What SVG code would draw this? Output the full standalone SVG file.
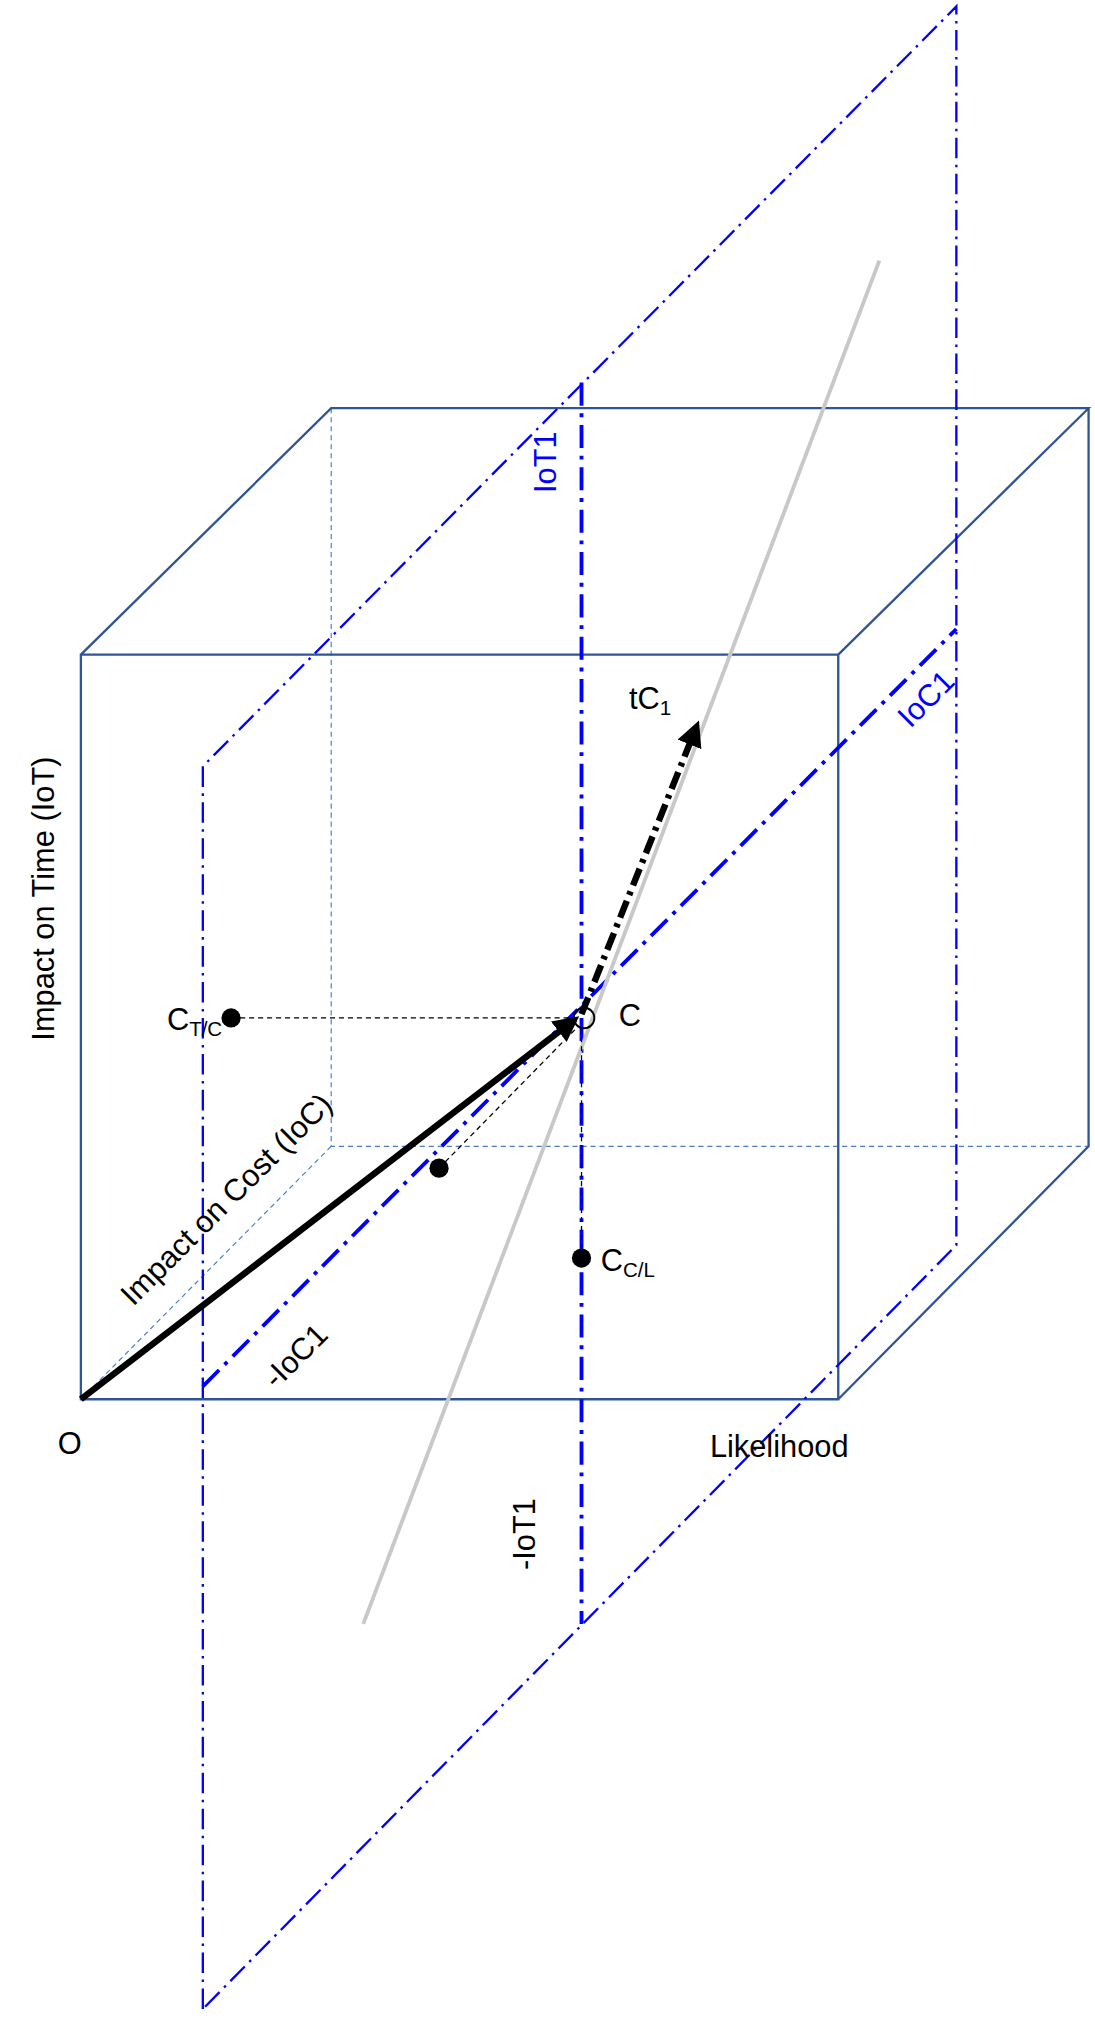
<svg xmlns="http://www.w3.org/2000/svg" width="1095" height="2024" viewBox="0 0 1095 2024">
<style>
.cube{fill:none;stroke:#2f5597;stroke-width:1.8}
.hid{fill:none;stroke:#4a7cc9;stroke-width:0.9;stroke-dasharray:4 3}
.pl{fill:none;stroke:#0000ff;stroke-width:1.8;stroke-dasharray:16 5 2 5}
.plt{fill:none;stroke:#0000ff;stroke-width:3;stroke-dasharray:18 6 3 6}
.prj{fill:none;stroke:#000;stroke-width:1;stroke-dasharray:4 3}
text{font-family:"Liberation Sans",Arial,sans-serif;font-size:24px;fill:#000}
.b{fill:#0000ff}
</style>
<defs>
<marker id="ah" viewBox="0 0 10 10" refX="8" refY="5" markerWidth="4" markerHeight="4" orient="auto"><path d="M0,0L10,5L0,10z" fill="#000"/></marker>
<marker id="ah2" viewBox="0 0 10 10" refX="8" refY="5" markerWidth="4" markerHeight="4" orient="auto"><path d="M0,0L10,5L0,10z" fill="#000"/></marker>
</defs>
<g transform="scale(1.2837)">
<g id="cube">
<path class="hid" d="M258,318V893H848M63,1090L258,893"/>
<path class="cube" d="M63,510H653V1090H63Z M63,510L258,318H848L653,510 M848,318V893L653,1090"/>
</g>
<g id="planes">
<path class="pl" d="M158,1565V597L745,5V970L158,1565"/>
<path class="plt" d="M453,298V1265"/>
<path class="plt" d="M158,1080L745,490"/>
</g>
<g id="connectors">
<line x1="685" y1="203" x2="283" y2="1265" stroke="#c8c8c8" stroke-width="3"/>
<path class="prj" d="M180,793H448M342,910L448,802M453,980V802"/>
<line x1="63" y1="1090" x2="448" y2="794" stroke="#000" stroke-width="5" marker-end="url(#ah)"/>
<line x1="453" y1="790" x2="543" y2="565" stroke="#000" stroke-width="5" stroke-dasharray="14 5 3 5" marker-end="url(#ah2)"/>
</g>
<g id="points">
<circle cx="455" cy="793" r="8" fill="none" stroke="#000" stroke-width="1.5"/>
<circle cx="180" cy="793" r="7.5"/>
<circle cx="342" cy="910" r="7.5"/>
<circle cx="453" cy="980" r="7.5"/>
</g>
<g id="labels">
<text transform="translate(42,700) rotate(-90)" text-anchor="middle">Impact on Time (IoT)</text>
<text transform="translate(182,940) rotate(-45)" text-anchor="middle">Impact on Cost (IoC)</text>
<text class="b" transform="translate(433,360) rotate(-90)" text-anchor="middle">IoT1</text>
<text class="b" transform="translate(727,550) rotate(-45)" text-anchor="middle">IoC1</text>
<text transform="translate(236,1062) rotate(-45)" text-anchor="middle">-IoC1</text>
<text transform="translate(417,1195) rotate(-90)" text-anchor="middle">-IoT1</text>
<text x="45" y="1133">O</text>
<text x="553" y="1135">Likelihood</text>
<text x="482" y="799">C</text>
<text x="490" y="552">tC<tspan font-size="16" dy="5">1</tspan></text>
<text x="130" y="802">C<tspan font-size="16" dy="5">T/C</tspan></text>
<text x="468" y="990">C<tspan font-size="16" dy="5">C/L</tspan></text>
</g>
</g>
</svg>
